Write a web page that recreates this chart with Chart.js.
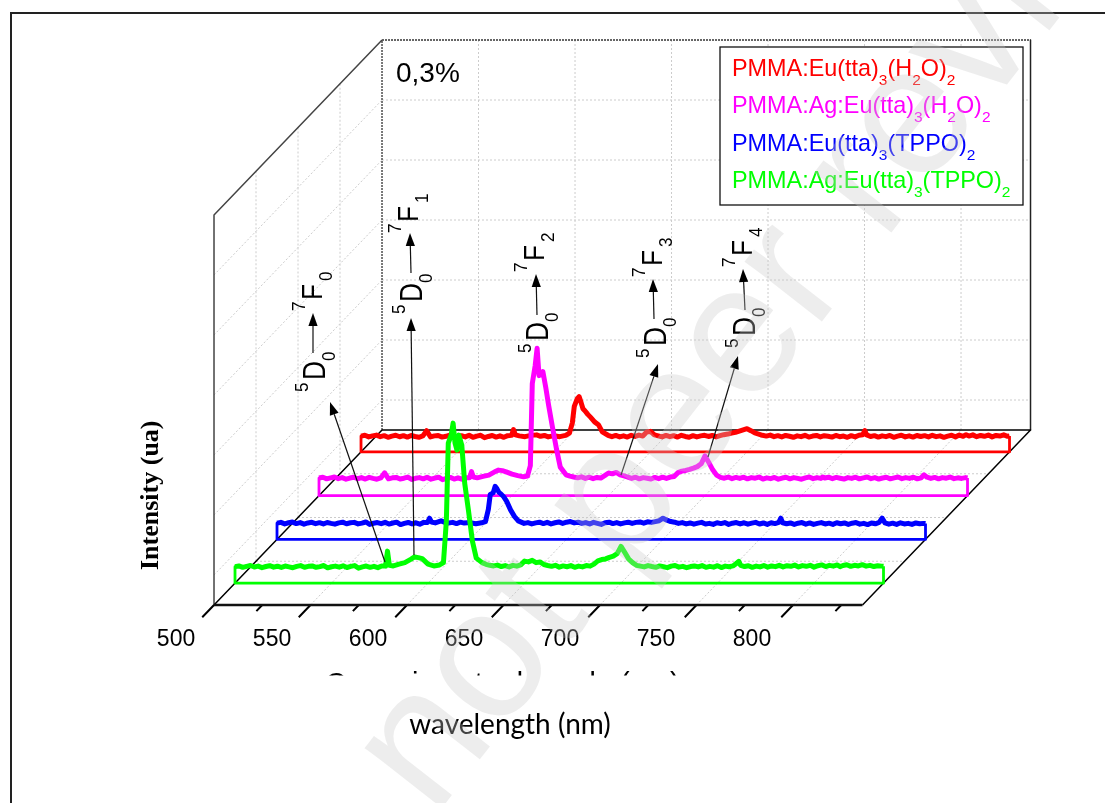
<!DOCTYPE html>
<html>
<head>
<meta charset="utf-8">
<title>wavelength chart</title>
<script src="https://cdn.jsdelivr.net/npm/chart.js@4"></script>
<style>
body { margin: 0; background: #fff; }
canvas { display: block; }
</style>
</head>
<body>
<canvas id="grafico" width="1105" height="803"></canvas>
<script>
// shared wavelength grid (nm), finer around the Eu bands
var wavelengths = [
  500,502,504,506,508,510,512,514,516,518,
  520,522,524,526,528,530,532,534,536,538,
  540,542,544,546,548,550,552,554,556,558,
  560,562,564,566,568,570,572,574,576,578,
  579,580,582,585,588,591,593,595,597,600,
  603,606,608,609.5,610.5,612,613,614,615,616,
  617.5,619,621,623,625,628,630,632,634,636,
  638,640,642,644,646,648,650,652,654,656,
  658,660,662,664,666,668,670,672,674,676,
  678,680,682,684,686,688,690,692,694,696,
  698,700,702,704,706,708,710,712,714,716,
  718,720,722,724,726,728,730,732,734,736,
  738,740,742,744,746,748,750,752,754,756,
  758,760,761,762,764,766,768,770,772,774,
  776,778,780,782,784,786,788,790,792,794,
  796,798,800,802,804,806,808,810,812,813.5,
  815,817,819,821,823,825,827,829,831,833,
  835,836
];

var eu_h2o = [
  158,166,150,160,168,152,162,146,158,166,
  151,162,148,164,154,146,159,212,150,160,
  164,148,156,168,144,155,162,150,166,146,
  158,166,142,154,164,148,160,146,162,165,
  222,170,160,152,165,170,156,164,150,162,
  152,165,188,290,455,530,553,495,432,412,
  375,345,300,272,200,166,152,164,150,160,
  148,166,154,168,158,198,205,170,160,150,
  164,152,162,148,166,154,146,162,150,160,
  166,154,164,150,162,172,178,188,196,208,
  220,232,212,190,178,166,158,168,152,162,
  150,164,156,146,160,152,166,148,158,164,
  150,162,156,148,164,152,158,146,162,150,
  166,172,213,170,154,162,148,160,152,164,
  146,158,166,150,160,148,164,154,162,150,
  166,152,160,146,158,166,150,168,156,172,
  158,170,152,164,156,168,150,164,158,170,
  156,160
];

var ag_eu_h2o = [
  176,184,168,178,186,170,180,164,176,184,
  169,180,166,182,172,164,177,228,168,178,
  182,166,174,186,162,173,180,168,184,164,
  176,184,160,172,182,166,178,164,180,178,
  240,186,178,192,205,238,255,250,238,215,
  200,188,195,300,1120,1300,1474,1200,1210,1240,
  1080,900,680,470,285,208,195,186,178,188,
  172,184,170,182,176,200,226,218,232,208,
  198,186,172,184,168,180,174,166,182,170,
  184,172,186,192,230,245,252,262,275,290,
  318,397,330,258,205,182,174,186,170,182,
  172,184,168,180,174,186,166,178,170,182,
  164,176,184,168,180,172,164,178,186,170,
  180,172,186,176,184,170,182,174,166,180,
  172,184,168,178,186,170,180,166,176,184,
  168,178,186,170,180,172,184,168,178,208,
  184,172,182,168,180,174,186,170,178,172,
  180,176
];

var eu_tppo = [
  162,170,155,166,173,158,168,152,164,171,
  157,167,154,169,160,152,165,172,156,166,
  170,155,163,174,150,161,168,157,171,153,
  164,172,148,160,169,155,166,152,170,168,
  212,174,165,185,162,170,158,172,163,168,
  156,166,178,300,450,465,530,505,470,455,
  425,380,295,230,185,160,168,155,165,172,
  158,170,155,166,174,160,172,178,165,172,
  160,168,154,170,160,150,166,172,158,168,
  155,165,172,160,170,174,162,176,170,178,
  186,212,192,178,172,160,168,155,164,152,
  162,170,154,160,150,166,158,168,150,162,
  168,155,166,152,162,170,154,164,150,166,
  158,170,212,166,156,164,150,162,168,152,
  164,150,160,168,154,162,150,166,156,164,
  150,162,168,152,160,148,164,156,170,212,
  165,152,162,150,166,154,160,150,164,156,
  160,158
];

var ag_eu_tppo = [
  165,172,158,168,176,161,170,155,166,174,
  160,169,157,171,163,154,167,175,159,168,
  172,158,165,176,153,164,170,160,173,156,
  167,175,150,162,171,158,168,155,172,170,
  320,178,172,190,205,238,262,255,245,190,
  172,182,205,620,1400,1480,1600,1400,1330,1480,
  1380,1000,720,420,250,205,188,178,172,180,
  166,175,162,178,170,182,220,212,228,205,
  212,186,176,168,178,160,172,164,175,158,
  170,162,176,170,190,222,236,242,258,270,
  295,367,305,240,205,178,170,162,175,166,
  158,172,164,155,170,176,160,168,154,166,
  172,162,175,158,168,160,174,156,170,164,
  172,200,218,178,166,174,158,170,162,176,
  160,172,165,178,162,174,168,180,162,175,
  168,178,160,174,182,166,178,170,182,165,
  176,184,168,178,172,184,170,178,166,174,
  170,168
];

var seriesDepth = [0.875, 0.625, 0.375, 0.125];
var seriesColors = ["#ff0000", "#ff00ff", "#0000ff", "#00ff00"];

var tickLabels = [500, 550, 600, 650, 700, 750, 800];
var minorTicks = [525, 575, 625, 675, 725, 775, 825];
var gridIntensity = [300, 900, 1500, 2100, 2700, 3300];
var gridDepth = [0.25, 0.5, 0.75];

var xStart = 500, xEnd = 836, wallTop = 3900;

var legendRows = [
  ["PMMA:Eu(tta)", "3", "(H", "2", "O)", "2"],
  ["PMMA:Ag:Eu(tta)", "3", "(H", "2", "O)", "2"],
  ["PMMA:Eu(tta)", "3", "(TPPO)", "2"],
  ["PMMA:Ag:Eu(tta)", "3", "(TPPO)", "2"]
];

// transition labels, arrows up between 5D0 and 7Fn
var transitions = [
  { n: "0", dx: 325, dy: 392, fx: 322, fy: 311, stem: [313, 353, 313, 313], arrow: [385, 562, 330, 402] },
  { n: "1", dx: 422, dy: 314, fx: 418, fy: 233, stem: [411, 273, 410, 233], arrow: [414, 555, 411, 318] },
  { n: "2", dx: 548, dy: 353, fx: 544, fy: 272, stem: [537, 315, 536, 274], arrow: null },
  { n: "3", dx: 666, dy: 358, fx: 662, fy: 277, stem: [654, 319, 653, 279], arrow: [621, 475, 658, 364] },
  { n: "4", dx: 755, dy: 348, fx: 752, fy: 267, stem: [745, 310, 743, 269], arrow: [708, 457, 738, 356] }
];

// oblique projection: depth z (0 front, 1 back) shifts nm and intensity
var depthNm = 168 / 1.93;
var depthI = 1750;
function proj(nm, v, z) {
  return { x: nm + z * depthNm, y: v + z * depthI };
}

// several separate segments in one dataset, NaN breaks the line
function segs(list) {
  var out = [];
  list.forEach(function (s) {
    s.forEach(function (p) { out.push(p); });
    out.push({ x: NaN, y: NaN });
  });
  return out;
}

function lineSet(data, color, width, dash, order) {
  return {
    data: data, showLine: true, pointRadius: 0, borderColor: color, borderWidth: width,
    borderDash: dash || [], order: order, clip: false, tension: 0, borderJoinStyle: "round", fill: false
  };
}

var majorNm = tickLabels.slice();
var gridLines = [];
majorNm.slice(1).forEach(function (nm) {
  gridLines.push([proj(nm, 0, 1), proj(nm, wallTop, 1)]);
});
majorNm.forEach(function (nm) {
  gridLines.push([proj(nm, 0, 0), proj(nm, 0, 1)]);
});
gridIntensity.forEach(function (v) {
  gridLines.push([proj(xStart, v, 1), proj(xEnd, v, 1)]);
  gridLines.push([proj(xStart, v, 0), proj(xStart, v, 1)]);
});
gridDepth.forEach(function (z) {
  gridLines.push([proj(xStart, 0, z), proj(xEnd, 0, z)]);
  gridLines.push([proj(xStart, 0, z), proj(xStart, wallTop, z)]);
});

var tickLines = [];
majorNm.forEach(function (nm) { tickLines.push([proj(nm, 0, 0), proj(nm, 0, -0.07)]); });
minorTicks.forEach(function (nm) { tickLines.push([proj(nm, 0, 0), proj(nm, 0, -0.035)]); });

var datasets = [
  lineSet(segs(gridLines), "#cccccc", 1, [2, 2], 20),
  lineSet(segs([[proj(xStart, 0, 1), proj(xStart, wallTop, 1), proj(xEnd, wallTop, 1)]]), "#333333", 1.3, [2, 1], 18),
  lineSet(segs([[proj(xStart, 0, 0), proj(xStart, wallTop, 0), proj(xStart, wallTop, 1)]]), "#444444", 1.5, [], 17),
  lineSet(segs([[proj(xEnd, wallTop, 1), proj(xEnd, 0, 1)]]), "#222222", 1.5, [], 17),
  lineSet(segs([[proj(xStart, 0, 1), proj(xEnd, 0, 1), proj(xEnd, 0, 0)], [proj(xStart, 0, 0), proj(xStart, 0, 1)]]), "#000000", 1.5, [], 16),
  lineSet(segs([[proj(xStart, 0, 0), proj(xEnd, 0, 0)]]), "#111111", 2.5, [], 15),
  lineSet(segs(tickLines), "#000000", 2, [], 15)
];

var seriesValues = [eu_h2o, ag_eu_h2o, eu_tppo, ag_eu_tppo];
seriesValues.forEach(function (vals, i) {
  var z = seriesDepth[i];
  var last = wavelengths.length - 1;
  // the wall under each trace, then the trace itself
  var wall = [proj(xStart, vals[0], z), proj(xStart, 0, z), proj(xEnd, 0, z), proj(xEnd, vals[last], z)];
  var trace = wavelengths.map(function (nm, k) { return proj(nm, vals[k], z); });
  datasets.push(lineSet(wall, seriesColors[i], 2.8, [], 10 - i * 2));
  datasets.push(lineSet(trace, seriesColors[i], 5, [], 9 - i * 2));
});

function drawArrow(ctx, a) {
  var ang = Math.atan2(a[3] - a[1], a[2] - a[0]);
  var len = 13, w = 4.6;
  ctx.strokeStyle = "#111";
  ctx.fillStyle = "#000";
  ctx.lineWidth = 1.2;
  ctx.beginPath();
  ctx.moveTo(a[0], a[1]);
  ctx.lineTo(a[2] - Math.cos(ang) * len, a[3] - Math.sin(ang) * len);
  ctx.stroke();
  ctx.beginPath();
  ctx.moveTo(a[2], a[3]);
  ctx.lineTo(a[2] - Math.cos(ang) * len - Math.sin(ang) * w, a[3] - Math.sin(ang) * len + Math.cos(ang) * w);
  ctx.lineTo(a[2] - Math.cos(ang) * len + Math.sin(ang) * w, a[3] - Math.sin(ang) * len - Math.cos(ang) * w);
  ctx.closePath();
  ctx.fill();
}

function upText(ctx, txt, x, y, font, sx) {
  ctx.save();
  ctx.translate(x, y);
  ctx.rotate(-Math.PI / 2);
  ctx.scale(sx, 1);
  ctx.font = font;
  ctx.fillText(txt, 0, 0);
  ctx.restore();
}

var sans = '"Liberation Sans"';

var annotations = {
  id: "annotations",
  beforeDraw: function (chart) {
    var ctx = chart.ctx;
    ctx.save();
    ctx.fillStyle = "#fff";
    ctx.fillRect(0, 0, chart.width, chart.height);
    // outer frame of the figure
    ctx.strokeStyle = "#222";
    ctx.lineWidth = 2;
    ctx.beginPath();
    ctx.moveTo(11, 803);
    ctx.lineTo(11, 13);
    ctx.lineTo(1105, 13);
    ctx.stroke();
    ctx.restore();
  },
  afterDatasetsDraw: function (chart) {
    var ctx = chart.ctx;
    ctx.save();
    ctx.textAlign = "left";
    ctx.textBaseline = "alphabetic";

    // old axis name, cut off in the original figure
    ctx.save();
    ctx.beginPath();
    ctx.rect(300, 660, 420, 15.5);
    ctx.clip();
    ctx.fillStyle = "#000";
    ctx.font = "29px " + sans;
    ctx.fillText("Comprimento de onda (nm)", 325, 693);
    ctx.restore();

    ctx.fillStyle = "#000";
    ctx.font = "28px " + sans;
    ctx.fillText("0,3%", 396, 82);

    upText(ctx, "Intensity (ua)", 158, 570, 'bold 26px "Liberation Serif"', 1);

    transitions.forEach(function (t) {
      ctx.fillStyle = "#000";
      upText(ctx, "5", t.dx - 17, t.dy, "19px " + sans, 0.9);
      upText(ctx, "D", t.dx, t.dy - 12, "31px " + sans, 0.85);
      upText(ctx, "0", t.dx + 10, t.dy - 31, "18px " + sans, 0.95);
      upText(ctx, "7", t.fx - 17, t.fy, "19px " + sans, 0.9);
      upText(ctx, "F", t.fx, t.fy - 11, "29px " + sans, 0.9);
      upText(ctx, t.n, t.fx + 10, t.fy - 30, "18px " + sans, 0.95);
      drawArrow(ctx, t.stem);
      if (t.arrow) drawArrow(ctx, t.arrow);
    });

    // legend box, names need subscripts so the built in legend is off
    ctx.fillStyle = "#fff";
    ctx.fillRect(720, 47, 303, 158);
    ctx.strokeStyle = "#111";
    ctx.lineWidth = 1.3;
    ctx.strokeRect(720, 47, 303, 158);
    var base = [76, 113, 151, 188];
    legendRows.forEach(function (row, r) {
      var x = 732;
      ctx.fillStyle = seriesColors[r];
      row.forEach(function (part) {
        var sub = part.length === 1;
        ctx.font = (sub ? "15.5px " : "23.4px ") + sans;
        ctx.fillText(part, x, base[r] + (sub ? 9 : 0));
        x += ctx.measureText(part).width;
      });
    });
    ctx.restore();
  },
  afterDraw: function (chart) {
    // preprint stamp across the page
    var ctx = chart.ctx;
    ctx.save();
    ctx.translate(434, 818);
    ctx.rotate(-52 * Math.PI / 180);
    ctx.font = '185px "Liberation Sans"';
    ctx.fillStyle = "rgba(200,200,200,0.33)";
    ctx.fillText("not peer reviewed", 0, 0);
    ctx.restore();
  }
};

var config = {
  type: "scatter",
  data: { datasets: datasets },
  plugins: [annotations],
  options: {
    responsive: false,
    animation: false,
    layout: { padding: { right: 85 } },
    plugins: { legend: { display: false }, tooltip: { enabled: false }, title: { display: false } },
    scales: {
      // x is the real wavelength scale, 1.93 px per nm with 500 at the front corner
      x: { type: "linear", display: false, min: 389.12, max: 917.6 },
      y: { type: "linear", display: false, min: -200, max: 6050 },
      // tick labels sit offset to the left of the oblique tick marks
      xt: {
        type: "linear", axis: "x", position: "bottom", min: 408.3, max: 939.6,
        grid: { display: false, drawTicks: false }, border: { display: false },
        afterBuildTicks: function (s) { s.ticks = tickLabels.map(function (v) { return { value: v }; }); },
        afterFit: function (s) { s.height = 178; },
        ticks: { autoSkip: false, maxRotation: 0, padding: 1, color: "#000", font: { family: "Liberation Sans", size: 23 } },
        title: {
          display: true, text: "wavelength (nm)", color: "#000",
          font: { family: "Lato", size: 28 }, padding: { top: 0, bottom: 61 }
        }
      }
    }
  }
};

var canvasElement = document.getElementById("grafico");
var grafico = new Chart(canvasElement, config);
</script>
</body>
</html>
